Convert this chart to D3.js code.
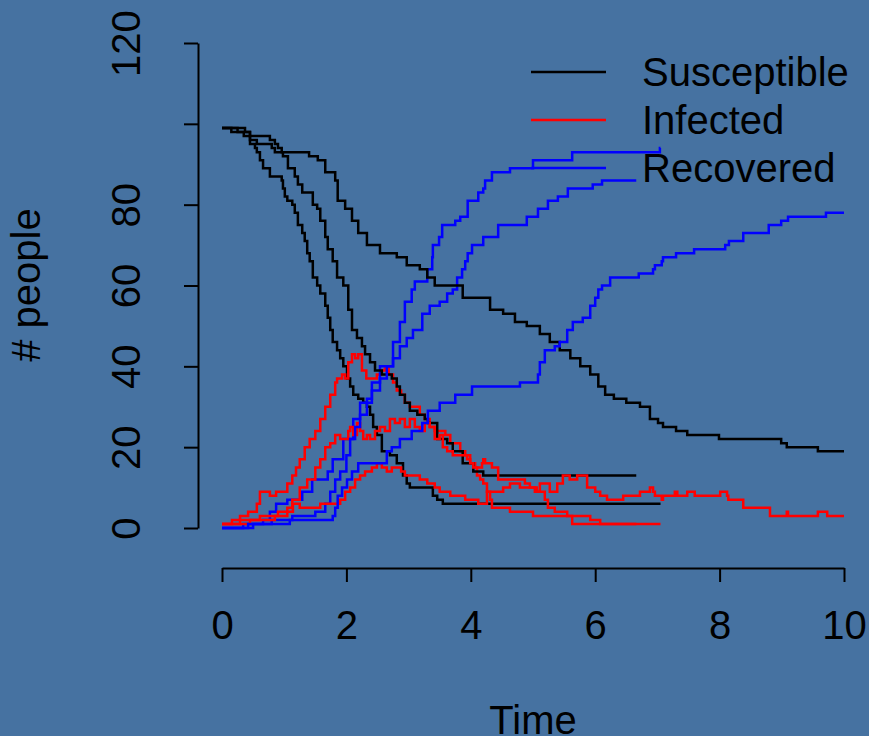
<!DOCTYPE html>
<html>
<head>
<meta charset="utf-8">
<script src="https://cdn.jsdelivr.net/npm/d3@7"></script>
<style>
  html, body { margin: 0; padding: 0; background: #4672a1; }
  svg { display: block; }
</style>
</head>
<body>
<div id="chart"></div>
<script>
// three stochastic SIR runs, [time, count]
const s1 = [[0,99],[0.15,98],[0.35,97],[0.45,95],[0.53,94],[0.56,93],[0.61,91],[0.66,89],[0.77,87],[0.96,86],[0.98,84],[1.01,82],[1.05,81],[1.13,80],[1.17,78],[1.22,75],[1.29,73],[1.33,71],[1.37,68],[1.41,66],[1.46,62],[1.53,60],[1.58,58],[1.66,55],[1.70,52],[1.74,49],[1.78,46],[1.85,44],[1.90,42],[1.95,40],[2.01,37],[2.06,35],[2.11,33],[2.19,32],[2.27,31],[2.33,30],[2.38,28],[2.43,25],[2.49,23],[2.57,19],[2.70,18],[2.81,16],[2.91,13],[2.97,11],[3.02,10],[3.39,8],[3.46,7],[3.55,6],[7.05,6]]
const i1 = [[0,1],[0.16,2],[0.29,3],[0.42,4],[0.56,6],[0.61,9],[0.77,8],[0.87,9],[1.05,11],[1.13,13],[1.19,15],[1.25,17],[1.33,20],[1.41,22],[1.50,24],[1.58,27],[1.66,30],[1.74,33],[1.82,36],[1.85,37],[1.93,38],[1.98,37],[2.03,41],[2.09,43],[2.14,42],[2.19,43],[2.25,39],[2.32,37],[2.41,37],[2.49,38],[2.56,39],[2.62,40],[2.68,38],[2.75,36],[2.81,34],[2.88,33],[2.94,31],[3.02,30],[3.10,30],[3.18,28],[3.26,27],[3.34,25],[3.42,24],[3.50,24],[3.59,23],[3.67,21],[3.75,21],[3.83,19],[3.91,18],[3.99,16],[4.07,15],[4.10,13],[4.15,12],[4.20,11],[4.26,9],[4.31,7],[4.34,5],[4.63,4],[5.00,3],[5.63,1],[7.05,1]]
const r1 = [[0,0],[0.34,1],[0.66,2],[0.77,4],[0.87,6],[1.05,7],[1.29,9],[1.45,12],[1.70,14],[1.78,17],[1.95,22],[2.11,27],[2.22,31],[2.33,32],[2.41,36],[2.54,40],[2.75,46],[2.86,51],[2.94,56],[3.05,59],[3.10,61],[3.30,64],[3.38,67],[3.39,70],[3.49,72],[3.54,75],[3.75,76],[3.83,77],[3.95,81],[4.12,83],[4.20,84],[4.23,86],[4.34,88],[4.63,89],[5.00,91],[5.63,93],[7.04,94],[7.05,94]]

const s2 = [[0,99],[0.25,98],[0.45,96],[0.56,95],[0.80,94],[0.85,93],[0.98,92],[1.06,89],[1.17,87],[1.22,85],[1.29,83],[1.46,80],[1.53,79],[1.58,76],[1.66,72],[1.70,69],[1.78,66],[1.85,62],[1.95,60],[2.03,54],[2.09,49],[2.17,47],[2.25,45],[2.30,43],[2.38,41],[2.46,39],[2.57,38],[2.73,37],[2.81,35],[2.86,33],[2.94,31],[3.02,29],[3.14,28],[3.26,27],[3.31,26],[3.46,22],[3.62,21],[3.71,19],[3.87,16],[4.04,14],[4.20,13],[6.66,13]]
const i2 = [[0,1],[0.29,2],[0.61,3],[0.90,4],[1.05,5],[1.13,7],[1.25,10],[1.37,12],[1.50,15],[1.58,17],[1.66,20],[1.74,21],[1.82,23],[1.90,22],[1.98,22],[2.03,24],[2.06,25],[2.11,23],[2.17,26],[2.22,24],[2.27,22],[2.33,23],[2.38,22],[2.46,24],[2.54,25],[2.62,24],[2.70,27],[2.78,26],[2.86,27],[2.94,25],[3.02,27],[3.10,25],[3.18,24],[3.26,26],[3.34,25],[3.42,22],[3.50,23],[3.55,20],[3.62,19],[3.71,18],[3.83,18],[3.94,17],[3.99,16],[4.04,15],[4.18,16],[4.20,17],[4.23,16],[4.34,15],[4.44,12],[4.87,11],[4.95,10],[5.06,9],[5.19,7],[5.24,5],[5.35,4],[5.55,3],[5.92,2],[6.08,1],[6.66,1]]
const r2 = [[0,0],[0.5,1],[0.8,2],[1.13,3],[1.50,4],[1.66,6],[1.74,9],[1.82,12],[1.90,14],[2.00,18],[2.06,22],[2.14,25],[2.22,28],[2.33,31],[2.41,34],[2.54,37],[2.65,40],[2.75,42],[2.86,45],[2.97,47],[3.07,49],[3.22,53],[3.34,55],[3.50,56],[3.62,58],[3.71,59],[3.78,62],[3.86,64],[3.91,66],[3.95,68],[4.02,70],[4.20,72],[4.44,75],[4.90,77],[5.08,79],[5.24,81],[5.40,82],[5.56,84],[5.96,85],[6.11,86],[6.66,86]]

const s3 = [[0,99],[0.37,98],[0.45,97],[0.77,96],[0.85,95],[0.90,94],[0.96,93],[1.40,92],[1.54,91],[1.66,88],[1.82,86],[1.86,81],[1.98,79],[2.09,76],[2.19,73],[2.33,70],[2.54,68],[2.81,67],[2.97,65],[3.18,64],[3.30,62],[3.42,60],[3.87,57],[4.31,54],[4.52,53],[4.71,51],[4.90,50],[5.11,48],[5.27,46],[5.43,44],[5.60,42],[5.76,40],[5.92,38],[6.05,35],[6.16,33],[6.30,32],[6.50,31],[6.72,30],[6.88,27],[7.01,26],[7.09,25],[7.30,24],[7.48,23],[7.99,22],[8.99,21],[9.08,20],[9.58,19],[10,19]]
const i3 = [[0,1],[0.45,2],[0.85,3],[1.05,4],[1.14,6],[1.25,5],[1.41,5],[1.58,6],[1.90,7],[1.98,9],[2.06,10],[2.14,12],[2.22,13],[2.30,14],[2.41,15],[2.49,16],[2.57,15],[2.65,14],[2.73,15],[2.88,14],[2.94,13],[3.18,12],[3.30,11],[3.42,10],[3.50,9],[3.67,8],[3.91,7],[4.12,6],[4.26,9],[4.52,10],[4.63,11],[4.79,10],[5.03,9],[5.11,11],[5.27,9],[5.39,11],[5.48,13],[5.59,12],[5.71,13],[5.87,10],[6.00,9],[6.08,8],[6.19,7],[6.45,8],[6.72,9],[6.88,10],[6.93,9],[6.96,8],[7.07,7],[7.09,8],[7.28,9],[7.32,8],[7.48,9],[7.60,8],[8.01,9],[8.12,8],[8.14,7],[8.38,5],[8.81,3],[9.08,4],[9.10,3],[9.58,4],[9.73,3],[10,3]]
const r3 = [[0,0],[0.42,1],[1.09,2],[1.78,3],[1.82,5],[1.86,8],[1.93,10],[2.01,12],[2.09,14],[2.19,16],[2.65,19],[2.73,20],[2.86,22],[3.05,24],[3.22,26],[3.31,29],[3.50,31],[3.75,33],[4.02,35],[4.79,36],[5.08,38],[5.11,41],[5.19,44],[5.35,45],[5.43,46],[5.55,49],[5.64,51],[5.80,52],[5.92,55],[6.00,57],[6.05,59],[6.11,60],[6.24,62],[6.70,63],[6.93,64],[6.96,65],[7.07,66],[7.09,67],[7.30,68],[7.59,69],[8.09,70],[8.15,71],[8.38,73],[8.79,75],[8.99,76],[9.10,77],[9.71,78],[10,78]]

const xTicks = [0, 2, 4, 6, 8, 10]
const yTicks = [0, 20, 40, 60, 80, 100, 120]
const legendLabels = ["Susceptible", "Infected", "Recovered"]
const legendColors = ["#000000", "#ff0000", "#0000ff"]

const width = 869, height = 736
const font = "'Liberation Sans', Arial, Helvetica, sans-serif"

const svg = d3.select("#chart").append("svg")
  .attr("width", width)
  .attr("height", height)

svg.append("rect").attr("width", width).attr("height", height).attr("fill", "#4672a1")

const x = d3.scaleLinear().domain([0, 10]).range([222, 844])
const y = d3.scaleLinear().domain([0, 120]).range([528, 43])

// axes, R style: line only spans the ticks
const xAxis = svg.append("g")
  .attr("transform", "translate(0,568)")
  .call(d3.axisBottom(x).tickValues(xTicks).tickSize(14).tickSizeOuter(0).tickFormat(d3.format("d")))
xAxis.selectAll("text")
  .attr("y", 71).attr("dy", 0)
  .attr("fill", "#000").style("font-size", "40px").style("font-family", font)

const yAxis = svg.append("g")
  .attr("transform", "translate(198,0)")
  .call(d3.axisLeft(y).tickValues(yTicks).tickSize(14).tickSizeOuter(0).tickFormat(d3.format("d")))
yAxis.selectAll("text")
  .attr("x", 0).attr("dy", 0)
  .attr("transform", "translate(-58,0) rotate(-90)")
  .attr("text-anchor", "middle")
  .attr("fill", "#000").style("font-size", "40px").style("font-family", font)

// R drops a label that would crowd its neighbour: 100 goes, tick stays
yAxis.selectAll(".tick text").filter(d => d === 100).remove()

svg.selectAll(".domain, .tick line").attr("stroke", "#000").attr("stroke-width", 2)

// axis titles
svg.append("text")
  .attr("x", 533).attr("y", 734)
  .attr("text-anchor", "middle")
  .style("font-size", "40px").style("font-family", font)
  .text("Time")

svg.append("text")
  .attr("transform", "translate(40,285) rotate(-90)")
  .attr("text-anchor", "middle")
  .style("font-size", "40px").style("font-family", font)
  .text("# people")

// runs
const line = d3.line()
  .x(d => x(d[0]))
  .y(d => y(d[1]))
  .curve(d3.curveStepAfter)

const runs = [
  [s1, i1, r1],
  [s2, i2, r2],
  [s3, i3, r3]
]

const g = svg.append("g")
runs.forEach(run => {
  run.forEach((series, k) => {
    g.append("path")
      .attr("d", line(series))
      .attr("fill", "none")
      .attr("stroke", legendColors[k])
      .attr("stroke-width", 2.5)
  })
})

// legend, no box
legendLabels.forEach((label, k) => {
  const ly = 72 + k * 48
  svg.append("line")
    .attr("x1", 531).attr("x2", 606)
    .attr("y1", ly).attr("y2", ly)
    .attr("stroke", legendColors[k])
    .attr("stroke-width", 2.5)
  svg.append("text")
    .attr("x", 642).attr("y", ly + 14)
    .style("font-size", "40px").style("font-family", font)
    .text(label)
})
</script>
</body>
</html>
